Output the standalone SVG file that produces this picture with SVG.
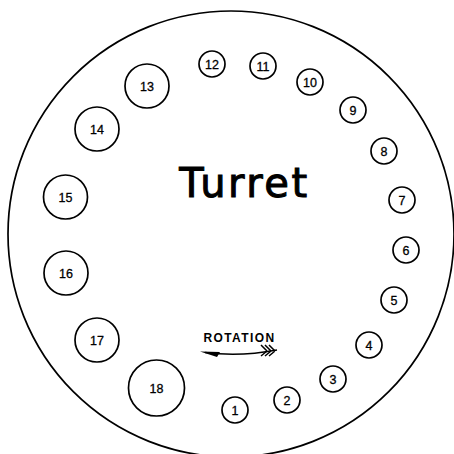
<svg xmlns="http://www.w3.org/2000/svg" width="454" height="454" viewBox="0 0 454 454">
<style>
.c{fill:none;stroke:#000;stroke-width:1.7}
.n{font-family:"Liberation Sans",Arial,sans-serif;font-size:12.5px;text-anchor:middle;fill:#000;stroke:#000;stroke-width:0.3}
.ln{fill:none;stroke:#000;stroke-width:1.5}
</style>
<rect width="454" height="454" fill="#fff"/>
<g id="turret">
<circle class="c" cx="231" cy="234" r="223"/>
<text x="244.5" y="197" font-family="DejaVu Sans,sans-serif" font-size="40" letter-spacing="2.5" text-anchor="middle" fill="#000" stroke="#000" stroke-width="1">Turret</text>
</g>
<g id="n1"><circle class="c" cx="235" cy="410" r="13"/><text class="n" x="235" y="414.5">1</text></g>
<g id="n2"><circle class="c" cx="287" cy="400" r="13"/><text class="n" x="287" y="404.5">2</text></g>
<g id="n3"><circle class="c" cx="333" cy="379" r="13"/><text class="n" x="333" y="383.5">3</text></g>
<g id="n4"><circle class="c" cx="369" cy="345" r="13"/><text class="n" x="369" y="349.5">4</text></g>
<g id="n5"><circle class="c" cx="394" cy="300" r="13"/><text class="n" x="394" y="304.5">5</text></g>
<g id="n6"><circle class="c" cx="406" cy="250" r="13"/><text class="n" x="406" y="254.5">6</text></g>
<g id="n7"><circle class="c" cx="402" cy="200" r="13"/><text class="n" x="402" y="204.5">7</text></g>
<g id="n8"><circle class="c" cx="384" cy="151" r="13"/><text class="n" x="384" y="155.5">8</text></g>
<g id="n9"><circle class="c" cx="353" cy="110" r="13"/><text class="n" x="353" y="114.5">9</text></g>
<g id="n10"><circle class="c" cx="310" cy="82" r="13"/><text class="n" x="310" y="86.5">10</text></g>
<g id="n11"><circle class="c" cx="263" cy="66" r="13"/><text class="n" x="263" y="70.5">11</text></g>
<g id="n12"><circle class="c" cx="212" cy="64" r="13"/><text class="n" x="212" y="68.5">12</text></g>
<g id="n13"><circle class="c" cx="147" cy="86" r="22"/><text class="n" x="147" y="90.5">13</text></g>
<g id="n14"><circle class="c" cx="97" cy="129" r="22"/><text class="n" x="97" y="133.5">14</text></g>
<g id="n15"><circle class="c" cx="65.5" cy="197" r="22"/><text class="n" x="65.5" y="201.5">15</text></g>
<g id="n16"><circle class="c" cx="66" cy="273" r="22"/><text class="n" x="66" y="277.5">16</text></g>
<g id="n17"><circle class="c" cx="97" cy="340" r="22"/><text class="n" x="97" y="344.5">17</text></g>
<g id="n18"><circle class="c" cx="156.5" cy="388" r="28"/><text class="n" x="156.5" y="392.5">18</text></g>
<g id="connectors">
<text x="239.5" y="342" font-family="Liberation Sans,Arial,sans-serif" font-weight="bold" font-size="12" letter-spacing="1.4" text-anchor="middle" fill="#000">ROTATION</text>
<path class="ln" d="M277 350 Q240 357 205 352.5"/>
<path d="M200 351.5 L220 352 L217 357 Z" fill="#000"/>
<path class="ln" stroke-width="1.2" d="M261 345 L267 351 M265 345 L271 351 M269 345 L275 351 M261 356 L267 351 M265 356 L271 351 M269 356 L275 351"/>
</g>
</svg>
